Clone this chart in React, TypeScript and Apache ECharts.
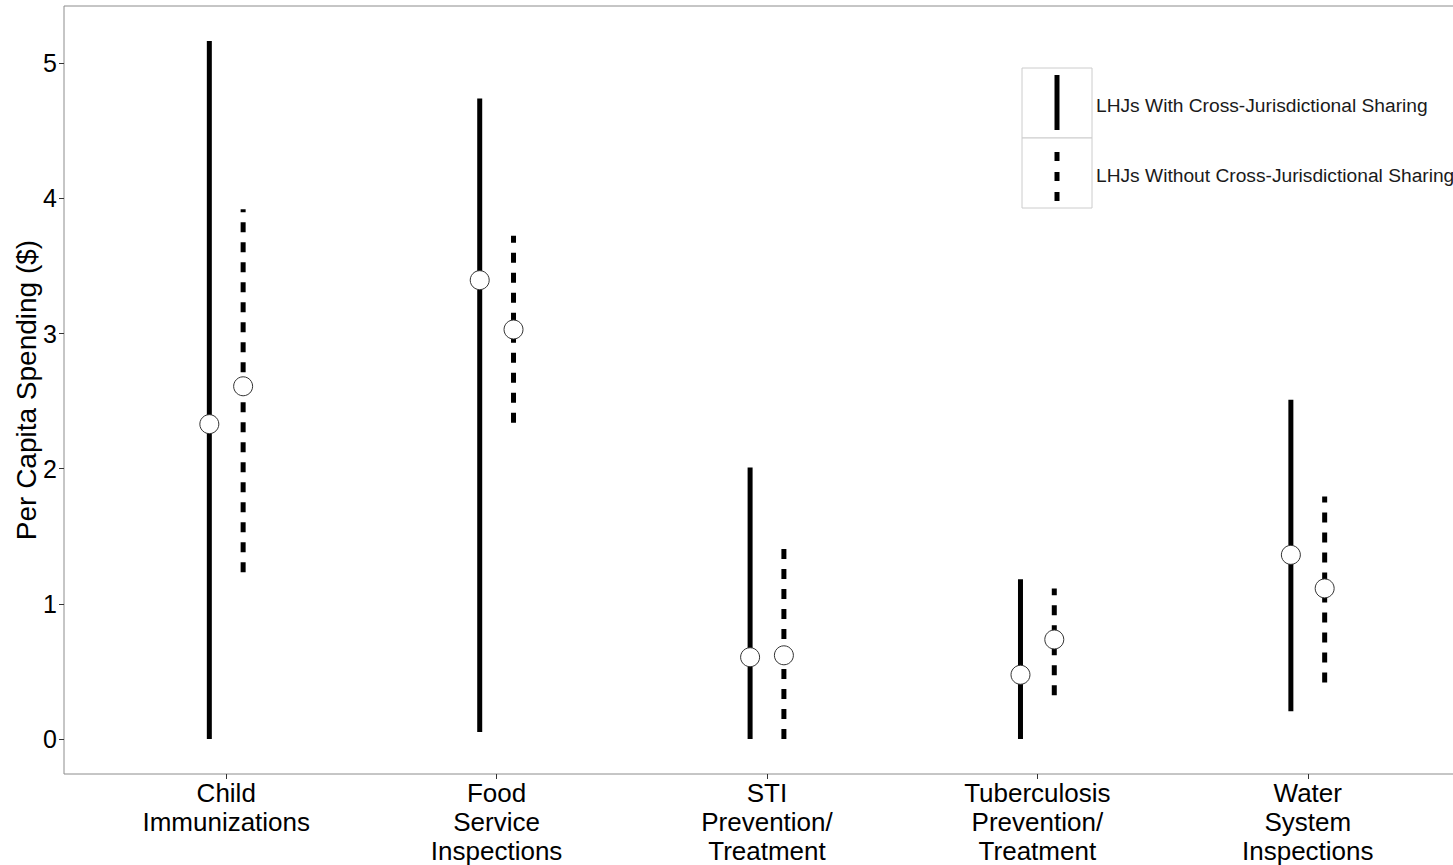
import React, { useEffect, useRef } from "react";
import * as echarts from "echarts";

const categories = [
  "Child\nImmunizations",
  "Food\nService\nInspections",
  "STI\nPrevention/\nTreatment",
  "Tuberculosis\nPrevention/\nTreatment",
  "Water\nSystem\nInspections",
];

const withMean = [2.33, 3.395, 0.606, 0.476, 1.363];
const withLow = [0, 0.052, 0, 0, 0.207];
const withHigh = [5.165, 4.739, 2.01, 1.183, 2.51];

const withoutMean = [2.61, 3.03, 0.62, 0.737, 1.115];
const withoutLow = [1.235, 2.34, 0, 0.325, 0.419];
const withoutHigh = [3.92, 3.723, 1.47, 1.115, 1.795];

const yTicks = [0, 1, 2, 3, 4, 5];
const legendLabels = [
  "LHJs With Cross-Jurisdictional Sharing",
  "LHJs Without Cross-Jurisdictional Sharing",
];

const DODGE = 0.0625;
const FONT = "'Liberation Sans', Arial, sans-serif";

export default function App() {
  const ref = useRef<HTMLDivElement>(null);

  useEffect(() => {
    if (!ref.current) return;
    const chart = echarts.init(ref.current, null, { renderer: "svg" });

    const xPos = categories.map((_, i) => i + 1);
    const rangeData = (lows: number[], highs: number[], off: number) =>
      xPos.map((x, i) => [x + off, lows[i], highs[i]]);
    const meanData = (means: number[], off: number) =>
      xPos.map((x, i) => [x + off, means[i]]);

    const makeRange = (dashed: boolean) => (params: any, api: any) => {
      const x = api.value(0);
      const p1 = api.coord([x, api.value(1)]);
      const p2 = api.coord([x, api.value(2)]);
      return {
        type: "line",
        shape: { x1: p1[0], y1: p1[1], x2: p2[0], y2: p2[1] },
        style: {
          stroke: "#000",
          lineWidth: 5,
          lineCap: "butt",
          lineDash: dashed ? [10, 10] : null,
        },
      };
    };

    const pointStyle = {
      color: "#fff",
      borderColor: "#333",
      borderWidth: 1,
      opacity: 1,
    };

    const option: any = {
      animation: false,
      backgroundColor: "#fff",
      grid: {
        left: 64,
        top: 6,
        right: 10,
        bottom: 91,
        containLabel: false,
        outerBoundsMode: "none",
        show: true,
        borderColor: "#8c8c8c",
        borderWidth: 1,
        backgroundColor: "#fff",
      },
      xAxis: {
        type: "value",
        min: 0.4,
        max: 5.6,
        splitLine: { show: false },
        axisLine: { show: false, onZero: false },
        axisTick: {
          show: true,
          customValues: xPos,
          length: 5,
          lineStyle: { color: "#333", width: 1 },
        },
        axisLabel: {
          show: true,
          customValues: xPos,
          formatter: (v: number) => categories[Math.round(v) - 1] ?? "",
          fontFamily: FONT,
          fontSize: 26,
          lineHeight: 29,
          color: "#000",
          margin: 4,
        },
      },
      yAxis: {
        type: "value",
        min: -0.258,
        max: 5.423,
        splitLine: { show: false },
        axisLine: { show: false, onZero: false },
        axisTick: {
          show: true,
          customValues: yTicks,
          length: 5,
          lineStyle: { color: "#333", width: 1 },
        },
        axisLabel: {
          show: true,
          customValues: yTicks,
          fontFamily: FONT,
          fontSize: 25,
          color: "#000",
          margin: 7,
        },
        name: "Per Capita Spending ($)",
        nameLocation: "middle",
        nameGap: 24,
        nameMoveOverlap: false,
        nameTextStyle: {
          fontFamily: FONT,
          fontSize: 28,
          color: "#000",
        },
      },
      series: [
        {
          type: "custom",
          name: legendLabels[0],
          renderItem: makeRange(false),
          encode: { x: 0, y: [1, 2] },
          data: rangeData(withLow, withHigh, -DODGE),
          z: 2,
        },
        {
          type: "custom",
          name: legendLabels[1],
          renderItem: makeRange(true),
          encode: { x: 0, y: [1, 2] },
          data: rangeData(withoutLow, withoutHigh, DODGE),
          z: 2,
        },
        {
          type: "scatter",
          symbol: "circle",
          symbolSize: 19,
          itemStyle: pointStyle,
          data: meanData(withMean, -DODGE),
          z: 3,
        },
        {
          type: "scatter",
          symbol: "circle",
          symbolSize: 19,
          itemStyle: pointStyle,
          data: meanData(withoutMean, DODGE),
          z: 3,
        },
      ],
      graphic: [
        {
          type: "rect",
          shape: { x: 1022, y: 68, width: 70, height: 70 },
          style: { fill: "#fff", stroke: "#cccccc", lineWidth: 1 },
          z: 10,
        },
        {
          type: "rect",
          shape: { x: 1022, y: 138, width: 70, height: 70 },
          style: { fill: "#fff", stroke: "#cccccc", lineWidth: 1 },
          z: 10,
        },
        {
          type: "line",
          shape: { x1: 1057, y1: 75, x2: 1057, y2: 130 },
          style: { stroke: "#000", lineWidth: 5, lineCap: "butt" },
          z: 11,
        },
        {
          type: "line",
          shape: { x1: 1057, y1: 152, x2: 1057, y2: 201 },
          style: {
            stroke: "#000",
            lineWidth: 5,
            lineCap: "butt",
            lineDash: [9, 11],
          },
          z: 11,
        },
        {
          type: "text",
          x: 1096,
          y: 105,
          style: {
            text: legendLabels[0],
            fontFamily: FONT,
            fontSize: 19.2,
            fill: "#1a1a1a",
            verticalAlign: "middle",
            align: "left",
          },
          z: 11,
        },
        {
          type: "text",
          x: 1096,
          y: 175,
          style: {
            text: legendLabels[1],
            fontFamily: FONT,
            fontSize: 19.2,
            fill: "#1a1a1a",
            verticalAlign: "middle",
            align: "left",
          },
          z: 11,
        },
      ],
    };

    chart.setOption(option);
    return () => chart.dispose();
  }, []);

  return (
    <div
      style={{
        position: "fixed",
        left: 0,
        top: 0,
        width: 1453,
        height: 865,
        overflow: "hidden",
        background: "#fff",
      }}
    >
      <div ref={ref} style={{ width: 1480, height: 865 }} />
    </div>
  );
}
